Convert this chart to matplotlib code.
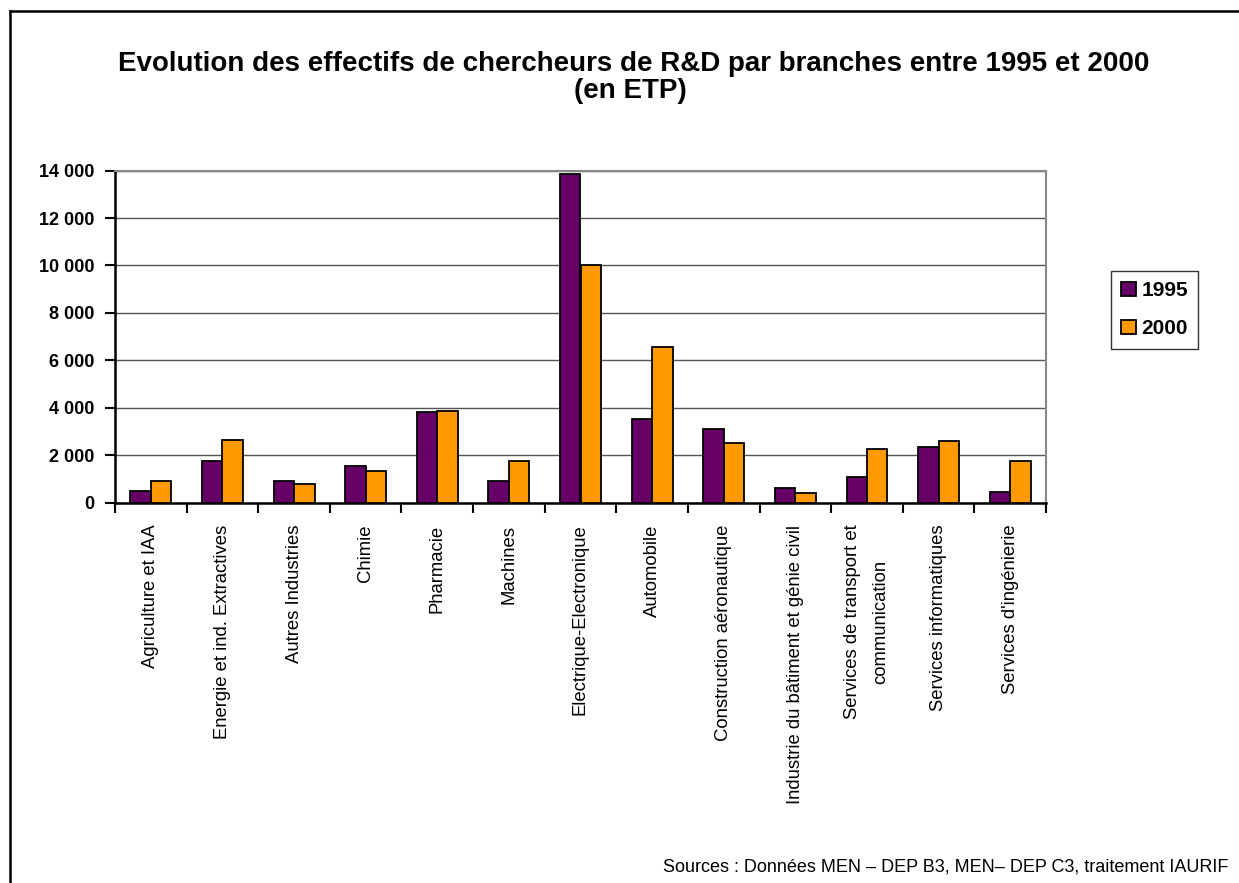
import matplotlib
matplotlib.use("Agg")
import matplotlib.pyplot as plt
import numpy as np
from matplotlib.lines import Line2D
from matplotlib.patches import Patch

categories = [
    "Agriculture et IAA",
    "Energie et ind. Extractives",
    "Autres Industries",
    "Chimie",
    "Pharmacie",
    "Machines",
    "Electrique-Electronique",
    "Automobile",
    "Construction aéronautique",
    "Industrie du bâtiment et génie civil",
    "Services de transport et\ncommunication",
    "Services informatiques",
    "Services d'ingénierie",
]
series_names = ["1995", "2000"]
values_1995 = [480, 1770, 910, 1520, 3800, 910, 13840, 3540, 3120, 600, 1080, 2360, 430]
values_2000 = [910, 2620, 760, 1340, 3870, 1760, 10030, 6570, 2520, 420, 2270, 2600, 1760]
yticks = [0, 2000, 4000, 6000, 8000, 10000, 12000, 14000]
ytick_labels = ["0", "2 000", "4 000", "6 000", "8 000", "10 000", "12 000", "14 000"]

title_line1 = "Evolution des effectifs de chercheurs de R&D par branches entre 1995 et 2000"
title_line2 = "(en ETP)"
source = "Sources : Données MEN – DEP B3, MEN– DEP C3, traitement IAURIF"

purple = "#660066"
orange = "#FF9900"

plt.rcParams['font.family'] = ['Liberation Sans', 'DejaVu Sans']

W, H = 1239, 883
fig = plt.figure(figsize=(W / 100, H / 100), dpi=100)

left, right, top, bottom = 115, 1046, 170.7, 502.5
ax = fig.add_axes([left / W, 1 - bottom / H, (right - left) / W, (bottom - top) / H])

n = len(categories)
x = np.arange(n)
bw = 1 / 3.5
ax.bar(x - bw / 2, values_1995, width=bw, color=purple, edgecolor="black", linewidth=1.3, zorder=3, label=series_names[0])
ax.bar(x + bw / 2, values_2000, width=bw, color=orange, edgecolor="black", linewidth=1.3, zorder=3, label=series_names[1])

ax.set_xlim(-0.5, n - 0.5)
ax.set_ylim(0, 14000)
ax.set_yticks(yticks)
ax.set_yticklabels(ytick_labels, fontsize=13, fontweight="bold")
ax.yaxis.grid(True, color="#555555", linewidth=1.0, zorder=0)
ax.set_axisbelow(True)

# x ticks at category boundaries, labels at centers
ax.set_xticks(np.arange(-0.5, n, 1.0))
ax.set_xticklabels([])
ax.set_xticks(x, minor=True)
ax.set_xticklabels(categories, minor=True, rotation=90, fontsize=13.3, va="top", ha="center",
                   multialignment="center", linespacing=1.85)
ax.tick_params(axis="x", which="minor", length=0, pad=16)
ax.tick_params(axis="x", which="major", length=7, width=1.5, direction="out", color="black")
ax.tick_params(axis="y", length=7, width=1.5, direction="out", pad=8)

for s in ["left", "bottom"]:
    ax.spines[s].set_color("black")
    ax.spines[s].set_linewidth(1.8)
for s in ["top", "right"]:
    ax.spines[s].set_color("#888888")
    ax.spines[s].set_linewidth(1.5)

handles = [Patch(facecolor=purple, edgecolor="black", linewidth=1.3),
           Patch(facecolor=orange, edgecolor="black", linewidth=1.3)]
leg = fig.legend(handles, series_names, loc="upper left",
                 bbox_to_anchor=(1111 / W, 1 - 271 / H), prop={"size": 15, "weight": "bold"},
                 frameon=True, fancybox=False, edgecolor="black", handlelength=0.7, handleheight=0.7,
                 handletextpad=0.25, borderpad=0.5, labelspacing=0.9, borderaxespad=0)
leg.get_frame().set_linewidth(1.0)

fig.text(634 / W, 1 - 71 / H, title_line1, ha="center", va="baseline", fontsize=20, fontweight="bold")
fig.text(630 / W, 1 - 98 / H, title_line2, ha="center", va="baseline", fontsize=20, fontweight="bold")
fig.text(1228 / W, 1 - 875 / H, source, ha="right", va="bottom", fontsize=13)

# outer frame (top and left edges)
fig.add_artist(Line2D([10 / W, 10 / W], [0, 1 - 11 / H], color="black", linewidth=1.8, transform=fig.transFigure))
fig.add_artist(Line2D([10 / W, 1], [1 - 11 / H, 1 - 11 / H], color="black", linewidth=1.8, transform=fig.transFigure))

fig.savefig("out.png", dpi=100)
